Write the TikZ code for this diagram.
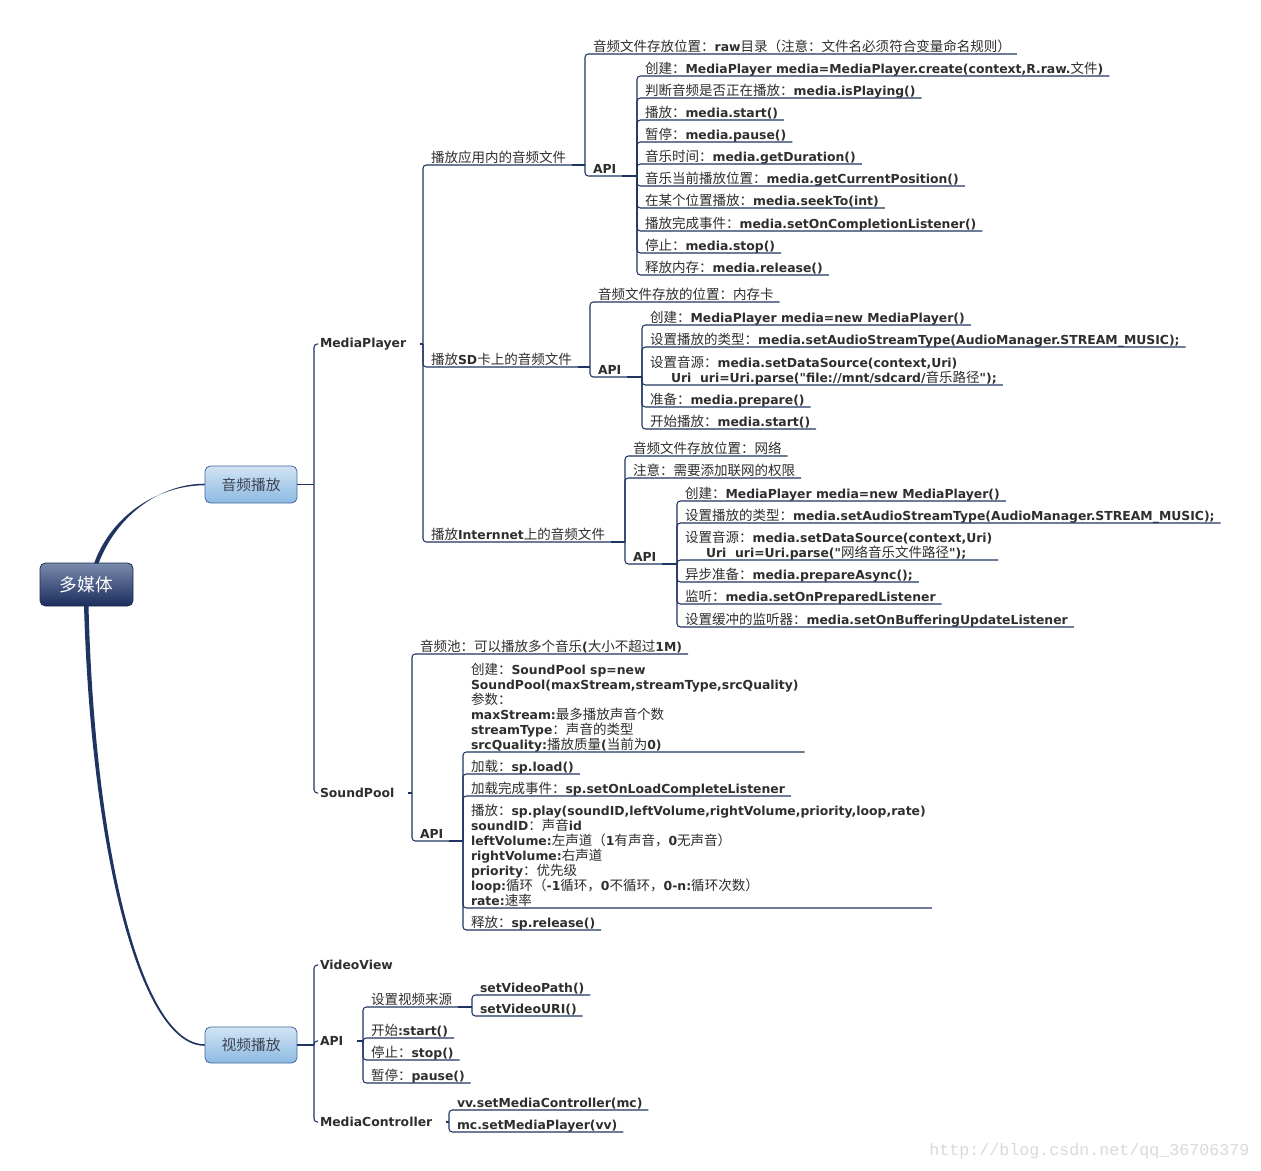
\documentclass[tikz,border=0pt]{standalone}
\usepackage{fontspec}
\usetikzlibrary{calc}
\setmainfont{DejaVu Sans}
\newfontfamily\latfam{DejaVu Sans}
\newfontfamily\cjkfam[Scale=1.09]{Noto Sans CJK SC}
\newfontfamily\wmfam{Liberation Mono}
\newcommand\tocjk{\cjkfam\mdseries}
\newcommand\tolat{\latfam\bfseries}
\XeTeXinterchartokenstate=1
\newXeTeXintercharclass\cjkcls
\newcommand\setcjkrange[2]{\count255=#1\relax\loop\XeTeXcharclass\count255=\cjkcls\relax\ifnum\count255<#2\relax\advance\count255 by 1\relax\repeat}
\setcjkrange{"3000}{"303F}
\setcjkrange{"4E00}{"9FFF}
\setcjkrange{"FF00}{"FFEF}
\XeTeXinterchartoks 0 \cjkcls = {\tocjk}
\XeTeXinterchartoks 4095 \cjkcls = {\tocjk}
\XeTeXinterchartoks \cjkcls 0 = {\tolat}
\XeTeXinterchartoks \cjkcls 4095 = {\tolat}
\definecolor{linkcol}{HTML}{1F3461}
\definecolor{txtcol}{HTML}{2E2E2E}
\newcommand\mystrut{\rule[-2.1pt]{0pt}{9.5pt}}
\newcommand\txtfont{\fontsize{9.3}{11.25}\selectfont\tolat}
\newcommand\ind{\hspace*{15.75pt}}
\begin{document}
\begin{tikzpicture}[x=0.75pt,y=-0.75pt,
  leaf/.style={anchor=south west, inner xsep=4.5pt, inner ysep=0pt, outer sep=0pt, align=left,
    font=\txtfont, text=txtcol, execute at begin node=\mystrut, execute at end node=\mystrut},
  lvtwo/.style={anchor=west, inner xsep=1.5pt, inner ysep=1pt, outer sep=0pt, font=\txtfont, text=txtcol},
  conn/.style={draw=linkcol, line width=0.8pt, rounded corners=2.5pt},
  rootbox/.style={rounded corners=4pt, draw={rgb,255:red,30;green,45;blue,85}, line width=0.6pt,
    top color={rgb,255:red,120;green,138;blue,172}, middle color={rgb,255:red,30;green,49;blue,96},
    bottom color={rgb,255:red,27;green,45;blue,92},
    minimum width=69.75pt, minimum height=32.25pt, inner sep=0pt, text=white, font=\fontsize{12.2}{14}\selectfont},
  catbox/.style={rounded corners=4pt, draw={rgb,255:red,70;green,105;blue,155}, line width=0.6pt,
    top color={rgb,255:red,210;green,228;blue,245}, bottom color={rgb,255:red,140;green,186;blue,226},
    minimum width=69pt, minimum height=27.75pt, inner sep=0pt, text={rgb,255:red,62;green,68;blue,82},
    font=\fontsize{10.15}{12}\selectfont}
]
\fill[white] (0,0) rectangle (1261,1171);
\useasboundingbox (0,0) rectangle (1261,1171);

% trunk coordinates
\coordinate (tAud) at (314,0);
\coordinate (tMP) at (423,0);
\coordinate (tMa) at (585,0);
\coordinate (tMb) at (637,0);
\coordinate (tMc) at (590,0);
\coordinate (tMd) at (642,0);
\coordinate (tMe) at (625,0);
\coordinate (tMf) at (677,0);
\coordinate (tSP) at (412,0);
\coordinate (tSPa) at (463,0);
\coordinate (tVid) at (314,0);
\coordinate (tVapi) at (363,0);
\coordinate (tVsrc) at (472,0);
\coordinate (tMC) at (449,0);

% main boxes
\node[rootbox] (root) at (86.5,584.5) {多媒体};
\node[catbox] (audio) at (251,484.5) {音频播放};
\node[catbox, minimum height=27pt] (video) at (251,1045) {视频播放};

% level two
\node[lvtwo] (mp) at (318,344) {MediaPlayer};
\node[lvtwo] (sp) at (318,793) {SoundPool};
\node[lvtwo] (vv) at (318,965) {VideoView};
\node[lvtwo] (vapi) at (318,1041) {API};
\node[lvtwo] (mc) at (318,1122) {MediaController};

% MediaPlayer branches
\node[leaf] (mp1) at (425,165) {播放应用内的音频文件};
\node[leaf] (mp2) at (425,367) {播放SD卡上的音频文件};
\node[leaf] (mp3) at (425,542) {播放Internnet上的音频文件};

\node[leaf] (mp1a) at (587,54) {音频文件存放位置：raw目录（注意：文件名必须符合变量命名规则）};
\node[leaf] (mp1b) at (587,176) {API};
\node[leaf] (m1c1) at (639,76) {创建：MediaPlayer media=MediaPlayer.create(context,R.raw.文件)};
\node[leaf] (m1c2) at (639,98) {判断音频是否正在播放：media.isPlaying()};
\node[leaf] (m1c3) at (639,120) {播放：media.start()};
\node[leaf] (m1c4) at (639,142) {暂停：media.pause()};
\node[leaf] (m1c5) at (639,164) {音乐时间：media.getDuration()};
\node[leaf] (m1c6) at (639,186) {音乐当前播放位置：media.getCurrentPosition()};
\node[leaf] (m1c7) at (639,208) {在某个位置播放：media.seekTo(int)};
\node[leaf] (m1c8) at (639,231) {播放完成事件：media.setOnCompletionListener()};
\node[leaf] (m1c9) at (639,253) {停止：media.stop()};
\node[leaf] (m1c10) at (639,275) {释放内存：media.release()};

\node[leaf] (mp2a) at (592,302) {音频文件存放的位置：内存卡};
\node[leaf] (mp2b) at (592,377) {API};
\node[leaf] (m2c1) at (644,325) {创建：MediaPlayer media=new MediaPlayer()};
\node[leaf] (m2c2) at (644,347) {设置播放的类型：media.setAudioStreamType(AudioManager.STREAM\_MUSIC);};
\node[leaf] (m2c3) at (644,385) {设置音源：media.setDataSource(context,Uri)\\\ind Uri\ \ uri=Uri.parse("file://mnt/sdcard/音乐路径");};
\node[leaf] (m2c4) at (644,407) {准备：media.prepare()};
\node[leaf] (m2c5) at (644,429) {开始播放：media.start()};

\node[leaf] (mp3a) at (627,456) {音频文件存放位置：网络};
\node[leaf] (mp3b) at (627,478) {注意：需要添加联网的权限};
\node[leaf] (mp3c) at (627,564) {API};
\node[leaf] (m3c1) at (679,501) {创建：MediaPlayer media=new MediaPlayer()};
\node[leaf] (m3c2) at (679,523) {设置播放的类型：media.setAudioStreamType(AudioManager.STREAM\_MUSIC);};
\node[leaf] (m3c3) at (679,560) {设置音源：media.setDataSource(context,Uri)\\\ind Uri\ \ uri=Uri.parse("网络音乐文件路径");};
\node[leaf] (m3c4) at (679,582) {异步准备：media.prepareAsync();};
\node[leaf] (m3c5) at (679,604) {监听：media.setOnPreparedListener};
\node[leaf] (m3c6) at (679,627) {设置缓冲的监听器：media.setOnBufferingUpdateListener};

% SoundPool branches
\node[leaf] (spa) at (414,654) {音频池：可以播放多个音乐(大小不超过1M)};
\node[leaf] (spb) at (414,841) {API};
\node[leaf] (s1) at (465,752) {创建：SoundPool sp=new\\SoundPool(maxStream,streamType,srcQuality)\\参数：\\maxStream:最多播放声音个数\\streamType：声音的类型\\srcQuality:播放质量(当前为0)};
\node[leaf] (s2) at (465,774) {加载：sp.load()};
\node[leaf] (s3) at (465,796) {加载完成事件：sp.setOnLoadCompleteListener};
\node[leaf] (s4) at (465,908) {播放：sp.play(soundID,leftVolume,rightVolume,priority,loop,rate)\\soundID：声音id\\leftVolume:左声道（1有声音，0无声音）\\rightVolume:右声道\\priority：优先级\\loop:循环（-1循环，0不循环，0-n:循环次数）\\rate:速率};
\node[leaf] (s5) at (465,930) {释放：sp.release()};

% Video branches
\node[leaf] (va1) at (365,1007) {设置视频来源};
\node[leaf] (va2) at (365,1038) {开始:start()};
\node[leaf] (va3) at (365,1060) {停止：stop()};
\node[leaf] (va4) at (365,1083) {暂停：pause()};
\node[leaf] (va1a) at (474,995) {setVideoPath()};
\node[leaf] (va1b) at (474,1016) {setVideoURI()};
\node[leaf] (mc1) at (451,1110) {vv.setMediaController(mc)};
\node[leaf] (mc2) at (451,1132) {mc.setMediaPlayer(vv)};

% watermark
\node[anchor=west, inner sep=0pt, text={rgb,255:red,218;green,218;blue,218}, font=\wmfam\fontsize{12.5}{14}\selectfont] (wm) at (929,1151) {http://blog.csdn.net/qq\_36706379};

% root curves (tapered)
\fill[linkcol] ($(root.north)+(7.5,1)$) .. controls +(18,-50) and +(-45,0) .. ($(audio.west)+(0,0.8)$)
  -- ($(audio.west)+(0,-0.8)$) .. controls +(-43,0) and +(19,-50) .. ($(root.north)+(12,1)$) -- cycle;
\fill[linkcol] ($(root.south)+(-2.5,-1)$) .. controls +(7,245) and +(-65,0) .. ($(video.west)+(0,0.8)$)
  -- ($(video.west)+(0,-0.8)$) .. controls +(-63,0) and +(6,245) .. ($(root.south)+(2,-1)$) -- cycle;

% audio
\draw[conn] (audio.east) -- (audio.east -| tAud);
\foreach \c in {mp,sp} \draw[conn] (audio.east -| tAud) |- (\c.west);
% MediaPlayer
\draw[conn] ([xshift=9pt]mp.east) -- (mp.east -| tMP);
\foreach \c in {mp1,mp2,mp3} \draw[conn] (mp.east -| tMP) |- (\c.south east);
% app audio
\draw[conn] (mp1.south east) -- (mp1.south east -| tMa);
\foreach \c in {mp1a,mp1b} \draw[conn] (mp1.south east -| tMa) |- (\c.south east);
\draw[conn] (mp1b.south east) -- (mp1b.south east -| tMb);
\foreach \i in {1,...,10} \draw[conn] (mp1b.south east -| tMb) |- (m1c\i.south east);
% sd card
\draw[conn] (mp2.south east) -- (mp2.south east -| tMc);
\foreach \c in {mp2a,mp2b} \draw[conn] (mp2.south east -| tMc) |- (\c.south east);
\draw[conn] (mp2b.south east) -- (mp2b.south east -| tMd);
\foreach \i in {1,...,5} \draw[conn] (mp2b.south east -| tMd) |- (m2c\i.south east);
% internet
\draw[conn] (mp3.south east) -- (mp3.south east -| tMe);
\foreach \c in {mp3a,mp3b,mp3c} \draw[conn] (mp3.south east -| tMe) |- (\c.south east);
\draw[conn] (mp3c.south east) -- (mp3c.south east -| tMf);
\foreach \i in {1,...,6} \draw[conn] (mp3c.south east -| tMf) |- (m3c\i.south east);
% SoundPool
\draw[conn] ([xshift=9pt]sp.east) -- (sp.east -| tSP);
\foreach \c in {spa,spb} \draw[conn] (sp.east -| tSP) |- (\c.south east);
\draw[conn] (spb.south east) -- (spb.south east -| tSPa);
\foreach \i in {1,...,5} \draw[conn] (spb.south east -| tSPa) |- (s\i.south east);
% video
\draw[conn] (video.east) -- (video.east -| tVid);
\foreach \c in {vv,vapi,mc} \draw[conn] (video.east -| tVid) |- (\c.west);
\draw[conn] ([xshift=9pt]vapi.east) -- (vapi.east -| tVapi);
\foreach \c in {va1,va2,va3,va4} \draw[conn] (vapi.east -| tVapi) |- (\c.south east);
\draw[conn] (va1.south east) -- (va1.south east -| tVsrc);
\foreach \c in {va1a,va1b} \draw[conn] (va1.south east -| tVsrc) |- (\c.south east);
\draw[conn] ([xshift=9pt]mc.east) -- (mc.east -| tMC);
\foreach \c in {mc1,mc2} \draw[conn] (mc.east -| tMC) |- (\c.south east);
\end{tikzpicture}
\end{document}
